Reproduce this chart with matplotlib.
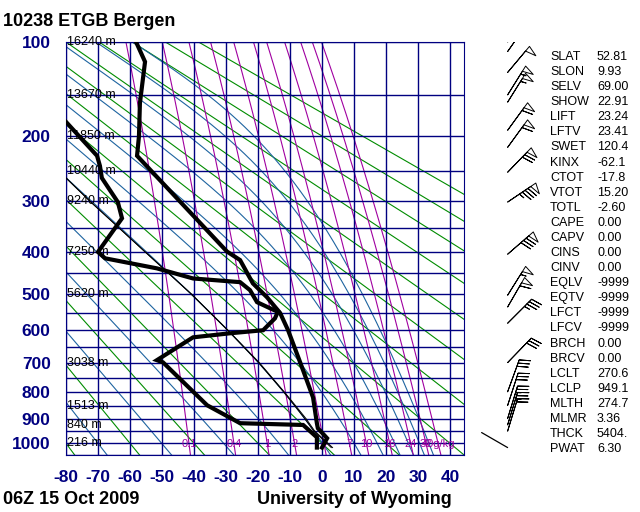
import numpy as np
import matplotlib.pyplot as plt

KAPPA = 0.286

# temperature profile (hPa, C)
temp_p = [100, 117, 159, 200, 227, 400, 419, 474, 509, 551, 600, 697, 820, 918, 938, 979, 1018]
temp_t = [-58.1, -55.3, -56.9, -57.2, -57.8, -29.7, -25.6, -21.6, -17.2, -13.1, -10.6, -6.9, -2.8, -1.6, -1.3, 1.6, 0.0]

# dewpoint profile (hPa, C)
dew_p = [150, 180, 227, 242, 261, 302, 332, 401, 415, 438, 462, 471, 491, 522, 538, 548, 566, 600, 609,
         621, 692, 699, 849, 918, 925, 975, 1018]
dew_t = [-88.0, -80.3, -70.3, -69.4, -68.8, -63.8, -62.5, -70.0, -67.8, -51.6, -40.3, -25.6, -22.5, -20.3,
         -16.3, -13.8, -14.7, -18.4, -28.8, -40.3, -51.6, -49.7, -35.9, -25.6, -5.9, -1.6, -1.6]

# lifted parcel (two thin lines)
parcel_p = [1018, 949, 900, 850, 800, 700, 600, 500, 400, 300, 261, 230]
parcel_t = [2.9, -2.6, -5.4, -8.6, -12.0, -19.8, -29.5, -41.0, -55.4, -72.6, -80.0, -87.0]
parcel_tv = [3.3, -2.3, -5.0, -8.3, -11.8, -19.6, -29.4, -40.9, -55.4, -72.6, -80.0, -87.0]

# geopotential heights printed at the left
hgt_p = [100, 150, 200, 250, 300, 400, 500, 700, 850, 925, 1000]
hgt_txt = ['16240 m', '13670 m', '11850 m', '10440 m', '9240 m', '7250 m', '5620 m', '3038 m',
           '1513 m', '840 m', '216 m']

# winds: pressure, direction (deg), speed (kt)
wind_p = [100, 108, 127, 150, 158, 192, 215, 252, 302, 406, 504, 535, 580, 700, 800, 850, 900, 925, 950]
wind_dir = [35, 35, 40, 32, 32, 36, 36, 44, 56, 49, 32, 30, 45, 44, 20, 18, 17, 17, 17]
wind_spd = [45, 40, 50, 55, 55, 60, 60, 70, 85, 80, 55, 60, 35, 30, 30, 30, 25, 25, 20]
sfc_p, sfc_dir = 1018, 300

# stability indices
idx_names = ['SLAT', 'SLON', 'SELV', 'SHOW', 'LIFT', 'LFTV', 'SWET', 'KINX', 'CTOT', 'VTOT', 'TOTL',
             'CAPE', 'CAPV', 'CINS', 'CINV', 'EQLV', 'EQTV', 'LFCT', 'LFCV', 'BRCH', 'BRCV', 'LCLT',
             'LCLP', 'MLTH', 'MLMR', 'THCK', 'PWAT']
idx_vals = ['52.81', '9.93', '69.00', '22.91', '23.24', '23.41', '120.4', '-62.1', '-17.8', '15.20',
            '-2.60', '0.00', '0.00', '0.00', '0.00', '-9999', '-9999', '-9999', '-9999', '0.00', '0.00',
            '270.6', '949.1', '274.7', '3.36', '5404.', '6.30']

# background lines
isobars = np.arange(100, 1051, 50)
isotherms = np.arange(-80, 41, 10)
theta_dry = np.arange(-80, 181, 20)       # potential temperature, C
theta_eq = np.arange(-70, 131, 20)        # equivalent potential temperature, C
mix_w = [0.1, 0.4, 1, 2, 4, 7, 10, 16, 24, 32, 40]
mix_lbl = ['0.1', '0.4', '1', '2', '4', '7', '10', '16', '24', '32', '40g/kg']
tick_p = [100, 200, 300, 400, 500, 600, 700, 800, 900, 1000]
tick_t = np.arange(-80, 41, 10)

NAVY = '#000080'
GREEN = '#008c00'
BLUE = '#1e64a0'
PURPLE = '#a000a0'


def zp(p):
    return np.asarray(p, dtype=float) ** KAPPA


def sat_vp(tc):
    return 6.112 * np.exp(17.67 * tc / (tc + 243.5))


def dewpoint_from_e(e):
    a = np.log(e / 6.112)
    return 243.5 * a / (17.67 - a)


def theta_e_1000(tc):
    rs = 0.622 * sat_vp(tc) / (1000 - sat_vp(tc))
    T = tc + 273.15
    return T * np.exp(2.501e6 * rs / (1005.7 * T)) - 273.15


def moist_dtdp(p, T):
    es = sat_vp(T - 273.15)
    rs = 0.622 * es / (p - es)
    num = (287.04 * T + 2.501e6 * rs) / p
    den = 1005.7 + 2.501e6 ** 2 * rs * 0.622 / (287.04 * T * T)
    return num / den


def integrate(T0, levels):
    out = [T0.copy()]
    t = T0.copy()
    for p0, p1 in zip(levels[:-1], levels[1:]):
        dp = p1 - p0
        k1 = moist_dtdp(p0, t)
        k2 = moist_dtdp(p0 + dp / 2, t + k1 * dp / 2)
        t = t + k2 * dp
        out.append(t.copy())
    return out


def moist_lines(theta_e):
    grid = np.linspace(-90, 45, 5000)
    t1000 = np.interp(theta_e, theta_e_1000(grid), grid) + 273.15
    up_p = np.arange(1000, 99, -2.0)
    dn_p = np.arange(1000, 1051, 2.0)
    up = integrate(t1000, up_p)
    dn = integrate(t1000, dn_p)
    pp = np.concatenate([dn_p[::-1], up_p[1:]])
    tt = np.vstack(dn[::-1] + up[1:]) - 273.15
    return pp, tt


fig = plt.figure(figsize=(6.4, 5.12), dpi=100)
ax = fig.add_axes([66 / 640, 1 - 455 / 512, 398 / 640, 413 / 512])
ax.set_xlim(-80, 44.375)
ax.set_ylim(zp(1050), zp(100))

for p in isobars:
    ax.axhline(zp(p), color=NAVY, lw=1.0, zorder=2)
for t in isotherms:
    ax.axvline(t, color=NAVY, lw=1.0, zorder=2)

pl = np.linspace(100, 1050, 200)
for th in theta_dry:
    ax.plot((th + 273.15) * (pl / 1000) ** KAPPA - 273.15, zp(pl), color=GREEN, lw=0.8, zorder=1)

mp, mt = moist_lines(theta_eq)
for i in range(len(theta_eq)):
    ax.plot(mt[:, i], zp(mp), color=BLUE, lw=0.8, zorder=1)

for w, lbl in zip(mix_w, mix_lbl):
    e = w * pl / (622 + w)
    ax.plot(dewpoint_from_e(e), zp(pl), color=PURPLE, lw=0.8, zorder=1)
    e0 = w * 1002 / (622 + w)
    ax.text(dewpoint_from_e(e0), zp(1002), lbl, color=PURPLE, fontsize=8, ha='center', va='center',
            family='Liberation Sans', zorder=3)

for p, s in zip(hgt_p, hgt_txt):
    ax.text(-79.6, zp(p), s, fontsize=9, ha='left', va='center', family='Liberation Sans', zorder=3)

ax.plot(parcel_t, zp(parcel_p), color='black', lw=0.7, zorder=4)
ax.plot(parcel_tv, zp(parcel_p), color='black', lw=0.7, zorder=4)
ax.plot(temp_t, zp(temp_p), color='black', lw=3, zorder=5, solid_joinstyle='miter')
ax.plot(dew_t, zp(dew_p), color='black', lw=3, zorder=5, solid_joinstyle='miter')

for sp in ax.spines.values():
    sp.set_color(NAVY)
ax.set_yticks(zp(tick_p))
ax.set_yticklabels([str(p) for p in tick_p])
ax.set_xticks(tick_t)
ax.set_xticklabels([str(t) for t in tick_t])
ax.tick_params(length=0, colors=NAVY, labelsize=12.5, pad=11)
for lab in ax.get_xticklabels() + ax.get_yticklabels():
    lab.set_fontweight('bold')
    lab.set_family('Liberation Sans')

# wind barbs
bax = fig.add_axes([470 / 640, 1 - 455 / 512, 80 / 640, 413 / 512])
bax.set_xlim(0, 1)
bax.set_ylim(zp(1050), zp(100))
bax.axis('off')
rad = np.deg2rad(wind_dir)
u = -np.array(wind_spd) * np.sin(rad)
v = -np.array(wind_spd) * np.cos(rad)
bax.barbs(np.full(len(wind_p), 0.47), zp(wind_p), u, v, length=7.0, lw=0.7,
          barbcolor='black', flagcolor='none',
          sizes=dict(spacing=0.1, height=0.32, width=0.18))
sr = np.deg2rad(sfc_dir)
bax.annotate('', xy=(0.47, zp(sfc_p)), xytext=(21.6 * np.sin(sr), 21.6 * np.cos(sr)),
             textcoords='offset points', arrowprops=dict(arrowstyle='-', lw=0.9, color='black',
                                                         shrinkA=0, shrinkB=0))

for i, (n, v_) in enumerate(zip(idx_names, idx_vals)):
    y = 1 - (57 + i * 15.08) / 512
    fig.text(550 / 640, y, n, fontsize=9, va='center', family='Liberation Sans')
    fig.text(597 / 640, y, v_, fontsize=9, va='center', family='Liberation Sans')

fig.text(3 / 640, 1 - 22 / 512, '10238 ETGB Bergen', fontsize=13, fontweight='bold', va='center',
         family='Liberation Sans')
fig.text(3 / 640, 1 - 499 / 512, '06Z 15 Oct 2009', fontsize=13, fontweight='bold', va='center',
         family='Liberation Sans')
fig.text(452 / 640, 1 - 499 / 512, 'University of Wyoming', fontsize=13, fontweight='bold', va='center',
         ha='right', family='Liberation Sans')

fig.savefig('out.png', dpi=100)
